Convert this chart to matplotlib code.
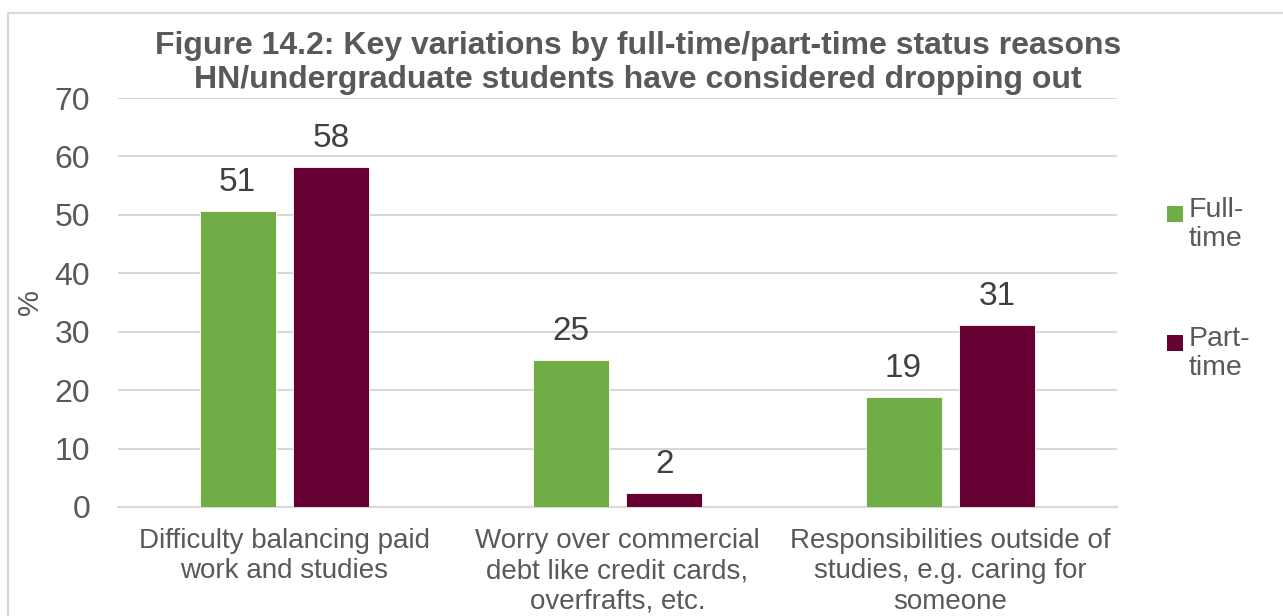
import matplotlib
matplotlib.use("Agg")
import matplotlib.pyplot as plt
from matplotlib.patches import Rectangle
import numpy as np

plt.rcParams['font.family'] = ['Liberation Sans', 'DejaVu Sans']

categories = ["Difficulty balancing paid\nwork and studies",
              "Worry over commercial\ndebt like credit cards,\noverfrafts, etc.",
              "Responsibilities outside of\nstudies, e.g. caring for\nsomeone"]
series_names = ["Full-\ntime", "Part-\ntime"]
full_time = [50.7, 25.2, 18.9]
part_time = [58.2, 2.4, 31.1]
colors = ["#70AD47", "#660033"]
title = "Figure 14.2: Key variations by full-time/part-time status reasons\nHN/undergraduate students have considered dropping out"

W, H = 1283, 616
fig = plt.figure(figsize=(W/100, H/100), dpi=100)
ax = fig.add_axes([118/W, 1-507/H, (1117-118)/W, (507-98)/H])

txt = "#595959"
grid = "#D9D9D9"
x = np.arange(len(categories))
bw = 0.228
off = 0.141
for i, (vals, c) in enumerate(zip([full_time, part_time], colors)):
    pos = x + (-off if i == 0 else off)
    ax.bar(pos, vals, width=bw, color=c, edgecolor="white", linewidth=0.6, zorder=3)
    for p, v in zip(pos, vals):
        ax.text(p, v + 2.2, f"{v:.0f}", ha="center", va="bottom", fontsize=24, color="#404040")

ax.set_xlim(-0.5, 2.5)
ax.set_ylim(0, 70)
ax.set_yticks(range(0, 71, 10))
ax.yaxis.grid(True, color=grid, linewidth=1.5, zorder=0)
ax.set_axisbelow(True)
for s in ["top", "right", "left"]:
    ax.spines[s].set_visible(False)
ax.spines["bottom"].set_color(grid)
ax.spines["bottom"].set_linewidth(1.5)
ax.tick_params(axis="y", length=0, pad=20, labelsize=23, labelcolor=txt)
ax.tick_params(axis="x", length=0, pad=15, labelsize=20, labelcolor=txt)
ax.set_xticks(x)
ax.set_xticklabels(categories, linespacing=1.22)
ax.set_ylabel("%", fontsize=21, color=txt)
ax.yaxis.set_label_coords(-0.074, 0.5)

fig.text(638/W, 1-63/H, title, ha="center", va="center", fontsize=23,
         fontweight="bold", color=txt, linespacing=1.17)

# legend
leg_y = [214, 343]
for name, c, yy in zip(series_names, colors, leg_y):
    fig.patches.append(Rectangle((1167/W, 1-(yy+8)/H), 16/W, 16/H, transform=fig.transFigure,
                                 facecolor=c, edgecolor="none"))
    fig.text(1189/W, 1-(yy-17)/H, name, ha="left", va="top", fontsize=20.5, color=txt,
             linespacing=1.15)

# chart border
fig.patches.append(Rectangle((8/W, -0.1), 1.2, 1-13/H+0.1, transform=fig.transFigure,
                             facecolor="none", edgecolor=grid, linewidth=1.5))

fig.savefig("out.png", dpi=100)
